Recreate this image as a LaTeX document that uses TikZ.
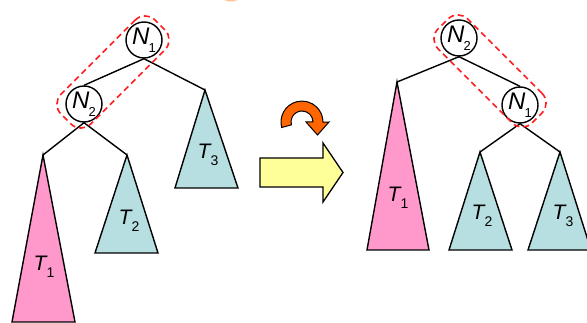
\documentclass[tikz,border=0pt]{standalone}
\usepackage{fontspec}
\setmainfont{Liberation Sans}
\definecolor{tpink}{RGB}{255,153,204}
\definecolor{tteal}{RGB}{183,222,224}
\definecolor{ayellow}{RGB}{255,255,153}
\definecolor{aorange}{RGB}{255,102,0}
\definecolor{dred}{RGB}{255,30,30}
\tikzset{
  nodecirc/.style={circle, draw, line width=1.4pt, minimum size=36pt, inner sep=0pt,
    font=\fontsize{24}{24}\selectfont},
  edgeline/.style={line width=1.4pt},
  tri/.style={draw, line width=1.4pt, line join=miter},
  lbl/.style={font=\fontsize{21}{21}\selectfont, inner sep=0pt},
  grp/.style={draw=dred, dashed, dash pattern=on 6pt off 4pt, line width=1.6pt,
    rounded corners=14pt, minimum width=133pt, minimum height=42pt, inner sep=0pt},
}
\newcommand{\lab}[2]{{\itshape #1}\raisebox{-0.33em}{\fontsize{14}{14}\selectfont #2}}
\newcommand{\nlab}[2]{{\itshape #1}\kern-1pt\raisebox{-0.32em}{\fontsize{13}{13}\selectfont #2}}
\begin{document}
\begin{tikzpicture}[x=1pt,y=-1pt]
\useasboundingbox (0,0) rectangle (587,323);
\clip (0,0) rectangle (587,323);
\fill[white] (0,0) rectangle (587,323);
% small orange sliver at top
\fill[aorange!40] (231,-3) ellipse [x radius=9, y radius=4.5];

% ---------- left tree ----------
\node[nodecirc] (ln1) at (144,40) {\nlab{N}{1}};
\node[nodecirc] (ln2) at (84,104) {\nlab{N}{2}};
\coordinate (lt1) at (43,155);
\coordinate (lt2) at (127,155);
\coordinate (lt3) at (205,90);
\filldraw[tri, fill=tpink] (lt1) -- (75,322) -- (12,322) -- cycle;
\filldraw[tri, fill=tteal] (lt2) -- (158,253) -- (95,253) -- cycle;
\filldraw[tri, fill=tteal] (lt3) -- (238,188) -- (175,188) -- cycle;
\draw[edgeline] (ln1.south) -- (ln2.north);
\draw[edgeline] (ln1.south) -- (lt3);
\draw[edgeline] (ln2.south) -- (lt1);
\draw[edgeline] (ln2.south) -- (lt2);
\node[lbl] (lT1) at (44,267) {\lab{T}{1}};
\node[lbl] (lT2) at (129,221) {\lab{T}{2}};
\node[lbl] (lT3) at (208,155) {\lab{T}{3}};
\node[grp, rotate=45] (lg) at (113,72) {};

% ---------- arrows ----------
\filldraw[fill=ayellow, line width=1.3pt, line join=miter]
  (260,158) -- (323,158) -- (323,143) -- (343,172.5) -- (323,202) -- (323,187) -- (260,187) -- cycle;
\filldraw[fill=aorange, line width=1pt, line join=miter]
  (281.7,127.5) arc[start angle=-195, end angle=0, radius=21]
  -- (329,122) -- (317.5,135) -- (306,122) -- (313,122)
  arc[start angle=0, end angle=-195, radius=11] -- cycle;

% ---------- right tree ----------
\node[nodecirc] (rn2) at (459,38) {\nlab{N}{2}};
\node[nodecirc] (rn1) at (520,105) {\nlab{N}{1}};
\coordinate (rt1) at (397,82);
\coordinate (rt2) at (480,152);
\coordinate (rt3) at (560,152);
\filldraw[tri, fill=tpink] (rt1) -- (429,250) -- (367,250) -- cycle;
\filldraw[tri, fill=tteal] (rt2) -- (512,250) -- (449,250) -- cycle;
\filldraw[tri, fill=tteal] (rt3) -- (591,250) -- (528,250) -- cycle;
\draw[edgeline] (rn2.south) -- (rt1);
\draw[edgeline] (rn2.south) -- (rn1.north);
\draw[edgeline] (rn1.south) -- (rt2);
\draw[edgeline] (rn1.south) -- (rt3);
\node[lbl] (rT1) at (398,198) {\lab{T}{1}};
\node[lbl] (rT2) at (482,216) {\lab{T}{2}};
\node[lbl] (rT3) at (563,216) {\lab{T}{3}};
\node[grp, rotate=-45] (rg) at (490,71) {};
\end{tikzpicture}
\end{document}
